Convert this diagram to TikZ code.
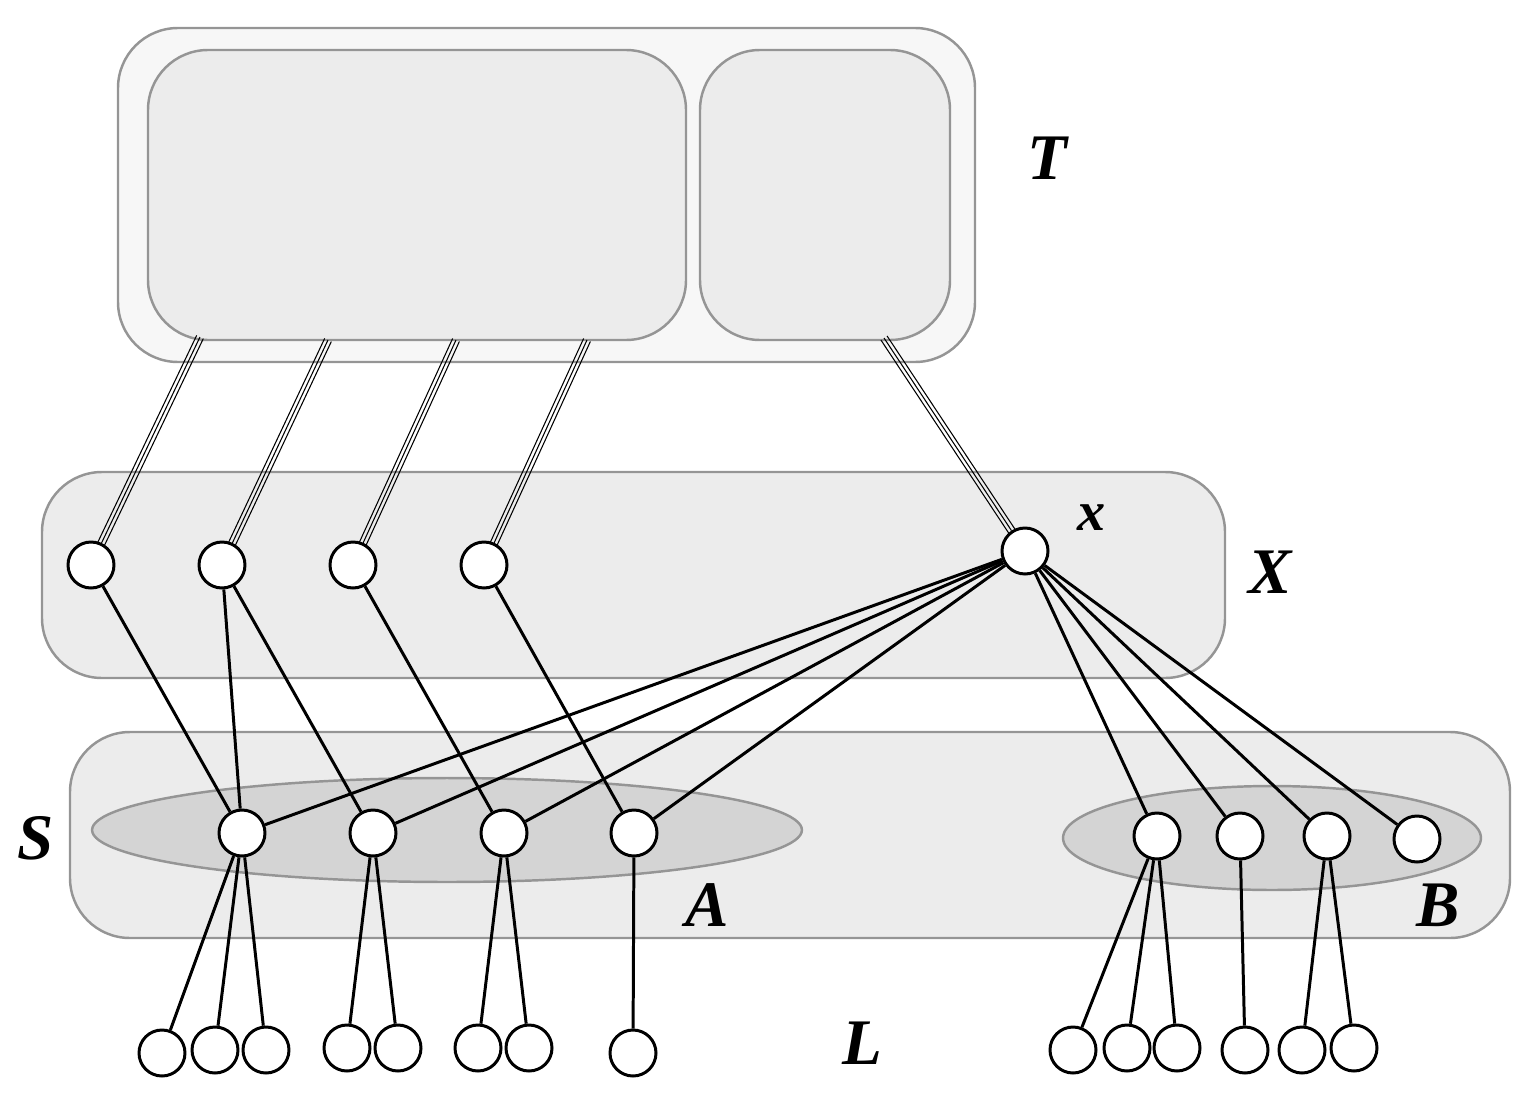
\documentclass[tikz,border=0pt]{standalone}
\usepackage{fontspec}
\setmainfont{Liberation Serif}
\usetikzlibrary{calc}
\pgfdeclarelayer{back}
\pgfdeclarelayer{edges}
\pgfsetlayers{back,edges,main}
\definecolor{regionline}{HTML}{959595}
\definecolor{outerfill}{HTML}{F7F7F7}
\definecolor{regionfill}{HTML}{ECECEC}
\definecolor{setfill}{HTML}{D4D4D4}
\tikzset{
  vert/.style={draw, circle, fill=white, line width=1.7pt, minimum size=0.92cm, inner sep=0pt},
  region/.style={draw=regionline, line width=1.4pt, rounded corners=1.2cm},
  subset/.style={draw=regionline, line width=1.4pt, fill=setfill},
  edge/.style={draw, line width=1.7pt},
  thinline/.style={draw, line width=0.6pt},
  lbl/.style={font=\bfseries\itshape\fontsize{37}{37}\selectfont, inner sep=0pt},
}
% three parallel thin lines
\newcommand{\tripleline}[2]{%
  \path[thinline] (#1) -- (#2);
  \path[thinline] ($(#1)!2.1pt!90:(#2)$) -- ($(#2)!2.1pt!-90:(#1)$);
  \path[thinline] ($(#1)!2.1pt!-90:(#2)$) -- ($(#2)!2.1pt!90:(#1)$);}
\begin{document}
\begin{tikzpicture}[x=0.02cm, y=-0.02cm]
\useasboundingbox (0,0) rectangle (1532,1112);
% regions
\begin{pgfonlayer}{back}
\path[region, fill=outerfill] (118,28) rectangle (975,362);
\path[region, fill=regionfill] (148,50) rectangle (686,340);
\path[region, fill=regionfill] (700,50) rectangle (950,340);
\path[region, fill=regionfill] (42,472) rectangle (1225,678);
\path[region, fill=regionfill] (70,732) rectangle (1510,938);
\path[subset] (447,830) ellipse [x radius=7.1cm, y radius=1.04cm];
\path[subset] (1272,838) ellipse [x radius=4.18cm, y radius=1.04cm];
\end{pgfonlayer}
% vertices
\foreach \n/\x in {1/91,2/222,3/353,4/484} \node[vert] (X\n) at (\x,565) {};
\node[vert] (x) at (1025,551) {};
\foreach \n/\x in {1/242,2/373,3/504,4/634} \node[vert] (A\n) at (\x,833) {};
\foreach \n/\x/\y in {1/1157/836,2/1240/836,3/1327/836,4/1417/839} \node[vert] (B\n) at (\x,\y) {};
\foreach \n/\x/\y in {1/162/1053,2/215/1050,3/266/1050,4/347/1048,5/398/1048,6/478/1048,7/529/1048,8/633/1053,
  9/1073/1050,10/1127/1048,11/1177/1048,12/1245/1050,13/1302/1050,14/1354/1048}
  \node[vert] (L\n) at (\x,\y) {};
% attachment points on T
\coordinate (t1) at (200,337);
\coordinate (t2) at (328,340);
\coordinate (t3) at (456,340);
\coordinate (t4) at (587,340);
\coordinate (t5) at (884,338);
% labels
\node[lbl] (labT) at (1047,158) {T};
\node[lbl] (labX) at (1270,572) {X};
\node[lbl] (labS) at (36,838) {S};
\node[lbl] (labA) at (707,905) {A};
\node[lbl] (labB) at (1438,905) {B};
\node[lbl] (labL) at (862,1043) {L};
\node[font=\bfseries\itshape\fontsize{32}{32}\selectfont, inner sep=0pt] (labx) at (1092,518) {x};
% connectors
\begin{pgfonlayer}{edges}
\tripleline{t1}{X1}
\tripleline{t2}{X2}
\tripleline{t3}{X3}
\tripleline{t4}{X4}
\tripleline{t5}{x}
\foreach \a/\b in {X1/A1,X2/A1,X2/A2,X3/A3,X4/A4} \path[edge] (\a) -- (\b);
\foreach \b in {A1,A2,A3,A4,B1,B2,B3,B4} \path[edge] (x) -- (\b);
\foreach \a/\b in {A1/L1,A1/L2,A1/L3,A2/L4,A2/L5,A3/L6,A3/L7,A4/L8,
  B1/L9,B1/L10,B1/L11,B2/L12,B3/L13,B3/L14} \path[edge] (\a) -- (\b);
\end{pgfonlayer}
\end{tikzpicture}
\end{document}
